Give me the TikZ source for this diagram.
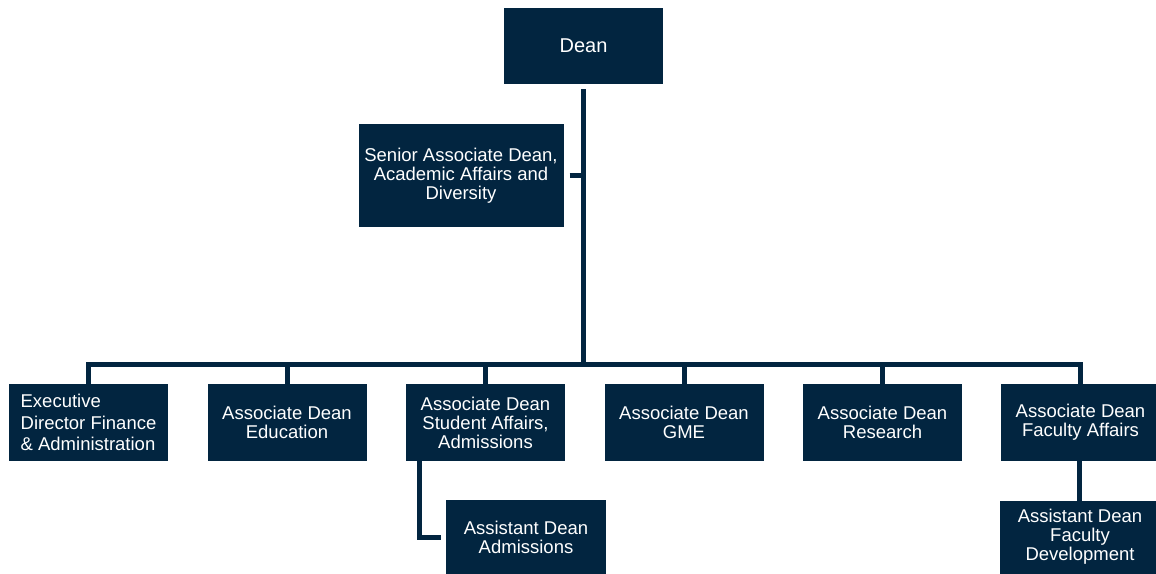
\documentclass[tikz,border=0pt]{standalone}
\usepackage{fontspec}
\setmainfont{Liberation Sans}
\usetikzlibrary{positioning}

\definecolor{deannavy}{RGB}{2,37,64}

\begin{document}
\begin{tikzpicture}[x=1pt,y=-1pt,
    office/.style={fill=deannavy, text=white, align=center, inner sep=0pt,
      minimum width=159pt, minimum height=77pt,
      font=\fontsize{18.5}{19}\selectfont},
    link/.style={draw=deannavy, line width=5pt, line join=miter}]
  \useasboundingbox (0,0) rectangle (1156,573);

  \node[office, minimum height=76pt, font=\fontsize{20}{22}\selectfont] (dean) at (583.5,46) {Dean};
  \node[office, minimum width=205pt, minimum height=103pt] (senior) at (461,175.5)
    {Senior Associate Dean,\\Academic Affairs and\\Diversity};

  \node[office, align=left, font=\fontsize{18.5}{21.5}\selectfont] (finance) at (88.5,422.5)
    {Executive\\Director Finance\\\& Administration};
  \node[office] (education) at (287,422.5) {Associate Dean\\Education};
  \node[office] (students) at (485.5,422.5) {Associate Dean\\Student Affairs,\\Admissions};
  \node[office] (gme) at (684,422.5) {Associate Dean\\GME};
  \node[office] (research) at (882.5,422.5) {Associate Dean\\Research};
  \node[office] (faculty) at (1080.5,422.5) {Associate Dean\\Faculty Affairs};

  \node[office, minimum width=160pt, minimum height=74pt] (admissions) at (526,537)
    {Assistant Dean\\Admissions};
  \node[office, minimum width=160pt, minimum height=73pt] (development) at (1080,537)
    {Assistant Dean\\Faculty\\Development};

  \coordinate (bus) at (584,364.5);

  % dean down to the row
  \draw[link] ([yshift=-5pt]dean.south) -- (dean.south |- bus);
  \draw[link] ([xshift=6pt]senior.east) -- (senior.east -| dean.south);
  \draw[link] ([yshift=-6pt]finance.north) -- (finance.north |- bus)
    -- (faculty.north |- bus) -- ([yshift=-6pt]faculty.north);
  \draw[link] ([yshift=-6pt]education.north) -- (education.north |- bus);
  \draw[link] ([yshift=-6pt]students.north) -- (students.north |- bus);
  \draw[link] ([yshift=-6pt]gme.north) -- (gme.north |- bus);
  \draw[link] ([yshift=-6pt]research.north) -- (research.north |- bus);

  % assistants
  \draw[link] ([xshift=14pt,yshift=5pt]students.south west) |- ([xshift=-5pt]admissions.west);
  \draw[link] ([xshift=-1.5pt,yshift=5pt]faculty.south) -- ([xshift=-1pt,yshift=-6pt]development.north);
\end{tikzpicture}
\end{document}
